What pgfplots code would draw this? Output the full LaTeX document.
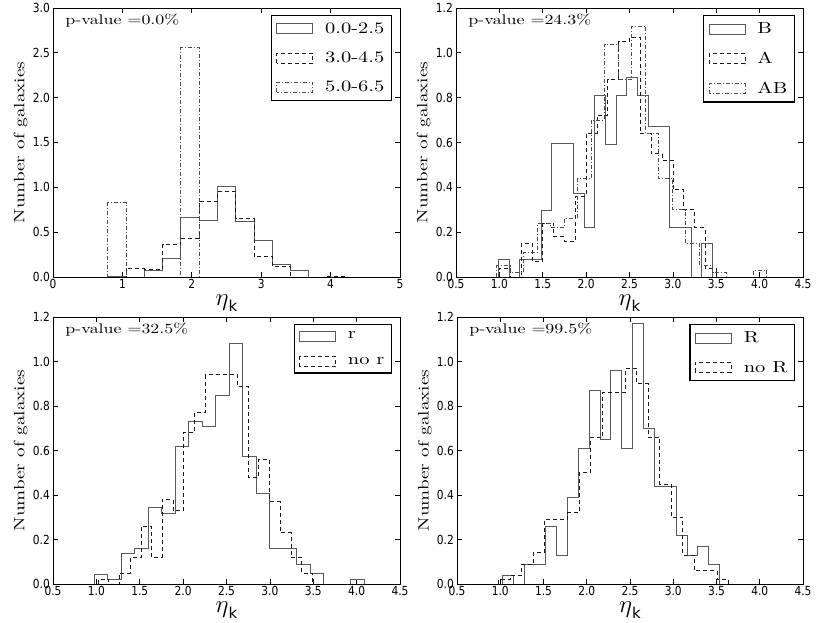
\documentclass[border=0pt]{standalone}
\usepackage{fontspec}
\usepackage{pgfplots}
\pgfplotsset{compat=1.18}
\newfontfamily\tickfont[FakeStretch=0.85]{DejaVu Sans}
\newfontfamily\dejavu{DejaVu Sans}
\newfontfamily\lms[FakeStretch=1.28]{lmroman10-regular.otf}
\newcommand{\etak}{{\fontsize{28}{30}\selectfont$\eta$}\raisebox{-6pt}{\fontsize{15}{15}\selectfont\dejavu k}}
\pgfplotsset{
  panel/.style={
    scale only axis,
    axis line style={line width=0.8pt},
    tick align=inside, tick pos=both,
    major tick length=5pt,
    every tick/.style={black, line width=0.7pt},
    tick label style={font=\fontsize{12.5}{14}\selectfont\tickfont, inner sep=0pt},
    xticklabel style={yshift=-2.5pt},
    yticklabel style={xshift=-3pt},
    xlabel={\etak},
    xlabel style={at={(axis description cs:0.5,0)}, anchor=base, yshift=-29pt, inner sep=0pt},
    ylabel={\fontsize{15}{17}\selectfont\lms Number of galaxies},
    ylabel style={at={(axis description cs:-0.093,0.5)}, anchor=center, inner sep=0pt},
    ymin=0,
    legend style={at={(rel axis cs:1,1)}, xshift=-8pt, yshift=-7pt, anchor=north east,
      draw=black, line width=1.3pt, font=\fontsize{16}{19}\selectfont\lms,
      row sep=13pt, inner xsep=5pt, inner ysep=5pt, nodes={inner sep=2pt}},
    legend cell align=left,
    legend image code/.code={\draw[##1] (0pt,-5pt) rectangle (36pt,5pt); \path (46pt,0pt);},
  },
  wide/.style={xmin=0.5, xmax=4.5, ymax=1.2,
    xtick={0.5,1,1.5,2,2.5,3,3.5,4,4.5},
    xticklabels={0.5,1.0,1.5,2.0,2.5,3.0,3.5,4.0,4.5},
    ytick={0,0.2,0.4,0.6,0.8,1.0,1.2},
    yticklabels={0.0,0.2,0.4,0.6,0.8,1.0,1.2}},
  s1/.style={const plot mark left, black!65, line width=0.7pt, solid, mark=none},
  s2/.style={const plot mark left, black!90, line width=0.7pt, dash pattern=on 4pt off 3pt, mark=none},
  s3/.style={const plot mark left, black!70, line width=0.7pt, dash pattern=on 4pt off 2pt on 1pt off 2pt, mark=none},
}
\newcommand{\pval}[1]{\node[anchor=north west, inner sep=0pt, font=\fontsize{14}{16}\selectfont\lms] at (rel axis cs:0.035,0.978) {p-value =#1\%};}
\begin{document}
\begin{tikzpicture}
\useasboundingbox (0,0) rectangle (830pt,623pt);

% Panel 1
\begin{axis}[panel, at={(53pt,346pt)}, anchor=south west, width=347pt, height=269pt,
  xmin=0, xmax=5, ymax=3.0,
  xtick={0,1,2,3,4,5}, xticklabels={0,1,2,3,4,5},
  ytick={0,0.5,1,1.5,2,2.5,3}, yticklabels={0.0,0.5,1.0,1.5,2.0,2.5,3.0}]
\addplot[s1] coordinates {(0,0)(0,0)(0.2632,0)(0.5263,0)(0.7895,0.01)(1.0526,0)(1.3158,0.07)(1.5789,0.21)(1.8421,0.67)(2.1053,0.635)(2.3684,1.01)(2.6316,0.62)(2.8947,0.41)(3.1579,0.145)(3.4211,0.078)(3.6842,0)(3.9474,0)(4.2105,0)(4.4737,0)(4.7368,0)(5,0)};
\addlegendentry{0.0-2.5}
\addplot[s2] coordinates {(0,0)(0.7895,0)(1.0526,0.097)(1.3158,0.09)(1.5789,0.36)(1.8421,0.43)(2.1053,0.84)(2.3684,0.96)(2.6316,0.65)(2.8947,0.23)(3.1579,0.115)(3.4211,0)(3.9474,0.01)(4.2105,0)(5,0)};
\addlegendentry{3.0-4.5}
\addplot[s3] coordinates {(0,0)(0.7895,0.83)(1.0526,0)(1.8421,2.56)(2.1053,0)(5,0)};
\addlegendentry{5.0-6.5}
\pval{0.0}
\end{axis}

% Panel 2
\begin{axis}[panel, wide, at={(456pt,346pt)}, anchor=south west, width=347pt, height=269pt]
\addplot[s1] coordinates {(0.986,0)(0.986,0.077)(1.1095,0)(1.233,0.077)(1.3565,0.077)(1.48,0.297)(1.6035,0.594)(1.727,0.594)(1.8505,0.372)(1.974,0.223)(2.0975,0.81)(2.221,0.59)(2.3445,0.81)(2.468,0.89)(2.5915,0.81)(2.715,0.67)(2.8385,0.67)(2.962,0.22)(3.0855,0.22)(3.209,0)(3.3325,0.15)(3.456,0)};
\addlegendentry{B}
\addplot[s2] coordinates {(1.0,0)(1.0,0.04)(1.125,0)(1.25,0.15)(1.375,0.07)(1.5,0.24)(1.625,0.18)(1.75,0.16)(1.875,0.36)(2.0,0.64)(2.125,0.72)(2.25,0.88)(2.375,1.05)(2.5,1.07)(2.625,0.64)(2.75,0.55)(2.875,0.52)(3.0,0.39)(3.125,0.30)(3.25,0.22)(3.375,0.04)(3.5,0)};
\addlegendentry{A}
\addplot[s3] coordinates {(0.97,0)(0.97,0.05)(1.1255,0.02)(1.281,0.11)(1.4365,0.24)(1.592,0.22)(1.7475,0.26)(1.903,0.44)(2.0585,0.70)(2.214,1.04)(2.3695,0.88)(2.525,1.12)(2.6805,0.64)(2.836,0.44)(2.9915,0.30)(3.147,0.15)(3.3025,0.05)(3.458,0.02)(3.6135,0)(3.769,0)(3.9245,0.03)(4.08,0)};
\addlegendentry{AB}
\pval{24.3}
\end{axis}

% Panel 3
\begin{axis}[panel, wide, at={(53pt,39pt)}, anchor=south west, width=347pt, height=267pt]
\addplot[s1] coordinates {(0.973,0)(0.973,0.045)(1.1288,0.02)(1.2846,0.139)(1.4404,0.158)(1.5962,0.345)(1.752,0.318)(1.9078,0.617)(2.0636,0.732)(2.2194,0.707)(2.3752,0.849)(2.531,1.08)(2.6868,0.572)(2.8426,0.408)(2.9984,0.16)(3.1542,0.16)(3.31,0.09)(3.4658,0.05)(3.6216,0)(3.7774,0)(3.9332,0.02)(4.089,0)};
\addlegendentry{r}
\addplot[s2] coordinates {(1.02,0)(1.02,0.02)(1.1435,0)(1.267,0.05)(1.3905,0.12)(1.514,0.26)(1.6375,0.12)(1.761,0.38)(1.8845,0.33)(2.008,0.68)(2.1315,0.77)(2.255,0.94)(2.3785,0.94)(2.502,0.94)(2.6255,0.89)(2.749,0.48)(2.8725,0.56)(2.996,0.37)(3.1195,0.23)(3.243,0.12)(3.3665,0.05)(3.49,0)};
\addlegendentry{no r}
\pval{32.5}
\end{axis}

% Panel 4
\begin{axis}[panel, wide, at={(457pt,39pt)}, anchor=south west, width=346pt, height=267pt]
\addplot[s1] coordinates {(1.022,0)(1.022,0.04)(1.1476,0)(1.2732,0.087)(1.3988,0.087)(1.5244,0.26)(1.65,0.13)(1.7756,0.39)(1.9012,0.61)(2.0268,0.87)(2.1524,0.65)(2.278,0.96)(2.4036,0.61)(2.5292,1.17)(2.6548,0.70)(2.7804,0.44)(2.906,0.44)(3.0316,0.22)(3.1572,0.13)(3.2828,0.17)(3.4084,0.09)(3.534,0)};
\addlegendentry{R}
\addplot[s2] coordinates {(0.98,0)(0.98,0.02)(1.113,0.04)(1.246,0.09)(1.379,0.14)(1.512,0.29)(1.645,0.29)(1.778,0.32)(1.911,0.50)(2.044,0.66)(2.177,0.86)(2.31,0.86)(2.443,0.97)(2.576,0.90)(2.709,0.66)(2.842,0.45)(2.975,0.30)(3.108,0.13)(3.241,0.06)(3.374,0.06)(3.507,0.02)(3.64,0)};
\addlegendentry{no R}
\pval{99.5}
\end{axis}
\end{tikzpicture}
\end{document}
